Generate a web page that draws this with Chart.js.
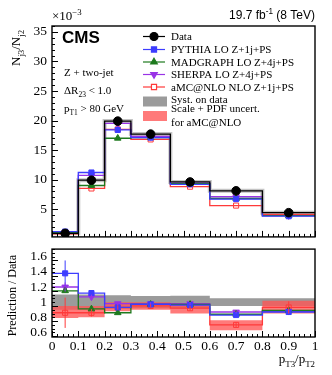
<!DOCTYPE html>
<html>
<head>
<meta charset="utf-8">
<script src="https://cdn.jsdelivr.net/npm/chart.js@4.4.0/dist/chart.umd.min.js"></script>
<style>
    html, body { margin: 0; padding: 0; background: #fff; }
    #wrap { position: relative; width: 332px; height: 375px; overflow: hidden; }
    #topChart { position: absolute; left: 0; top: 0; }
    #ratioChart { position: absolute; left: 0; top: 236px; }
</style>
</head>
<body>
<div id="wrap">
    <canvas id="topChart" width="332" height="250"></canvas>
    <canvas id="ratioChart" width="332" height="139"></canvas>
</div>
<script>
// --- DATA ---
const binEdges = [0, 0.1, 0.2, 0.3, 0.45, 0.6, 0.8, 1.0];
const binCenters = [0.05, 0.15, 0.25, 0.375, 0.525, 0.7, 0.9];

// upper panel, N_j3/N_j2 in units of 1e-3
const dataTop = [0.9, 9.9, 19.9, 17.7, 9.6, 8.1, 4.4];
const pythiaTop = [1.2, 11.2, 18.4, 17.1, 9.2, 6.7, 3.8];
const madgraphTop = [1.0, 9.0, 17.0, 17.1, 9.3, 6.8, 3.9];
const sherpaTop = [1.1, 10.7, 19.5, 17.3, 9.4, 7.1, 3.9];
const amcnloTop = [0.8, 8.5, 18.5, 16.8, 8.8, 5.6, 4.1];

// lower panel, prediction / data
const pythiaRatio = [1.38, 1.12, 0.93, 0.97, 0.96, 0.83, 0.87];
const madgraphRatio = [1.15, 0.91, 0.86, 0.97, 0.97, 0.84, 0.89];
const sherpaRatio = [1.20, 1.07, 0.98, 0.98, 0.98, 0.87, 0.88];
const amcnloRatio = [0.86, 0.86, 0.93, 0.95, 0.92, 0.70, 0.93];
const pythiaErr = [0.17, 0.03, 0.02, 0.02, 0.02, 0.02, 0.03];
const sherpaErr = [0.06, 0.03, 0.02, 0.02, 0.02, 0.02, 0.03];
const amcnloErr = [0.20, 0.05, 0.03, 0.02, 0.03, 0.03, 0.08];
const systLow = [0.90, 0.90, 0.91, 0.92, 0.92, 0.95, 0.95];
const systHigh = [1.10, 1.10, 1.09, 1.08, 1.085, 1.05, 1.05];
const amcBandLow = [0.79, 0.80, 0.88, 0.90, 0.85, 0.63, 0.85];
const amcBandHigh = [0.95, 0.95, 1.00, 1.00, 0.99, 0.76, 1.02];

// ticks
const xTicks = [0, 0.1, 0.2, 0.3, 0.4, 0.5, 0.6, 0.7, 0.8, 0.9, 1];
const xTickLabels = ['0', '0.1', '0.2', '0.3', '0.4', '0.5', '0.6', '0.7', '0.8', '0.9', '1'];
const topTicks = [5, 10, 15, 20, 25, 30, 35];
const ratioTicks = [0.6, 0.8, 1, 1.2, 1.4, 1.6];
const ratioTickLabels = ['0.6', '0.8', '1', '1.2', '1.4', '1.6'];

// --- STYLE ---
const SERIF = '"Liberation Serif", "DejaVu Serif", serif';
const SANS = '"Liberation Sans", Arial, sans-serif';
const C_DATA = '#000000';
const C_PYTHIA = '#3d3dff';
const C_MADGRAPH = '#1e7a1e';
const C_SHERPA = '#9933e6';
const C_AMC = '#ff3a3a';
const C_SYST = '#9b9b9b';
const C_AMCBAND = 'rgba(255, 85, 85, 0.78)';

// histogram outline from bin values
function steps(values) {
    const pts = [];
    values.forEach((v, i) => {
        pts.push({ x: binEdges[i], y: v });
        pts.push({ x: binEdges[i + 1], y: v });
    });
    return pts;
}
function markers(values) {
    return values.map((v, i) => ({ x: binCenters[i], y: v }));
}
function histLine(values, color, width, order) {
    return { type: 'line', data: steps(values), borderColor: color, borderWidth: width, pointRadius: 0, fill: false, order: order };
}
function markerSet(values, color, style, radius, opts = {}) {
    return Object.assign({
        type: 'line', data: markers(values), showLine: false, pointStyle: style, pointRadius: radius,
        pointBackgroundColor: color, pointBorderColor: color, pointBorderWidth: 1, order: 0
    }, opts);
}

// --- TEXT HELPERS ---
function drawRich(ctx, parts, x, y, size, family, align) {
    let w = 0;
    parts.forEach(p => {
        ctx.font = (p.s ? size * 0.68 : size) + 'px ' + family;
        w += ctx.measureText(p.t).width;
    });
    let cx = align === 'right' ? x - w : align === 'center' ? x - w / 2 : x;
    ctx.textAlign = 'left';
    ctx.textBaseline = 'alphabetic';
    parts.forEach(p => {
        const fs = p.s ? size * 0.68 : size;
        ctx.font = fs + 'px ' + family;
        const dy = p.s === 'sub' ? size * 0.28 : p.s === 'sup' ? -size * 0.42 : 0;
        ctx.fillText(p.t, cx, y + dy);
        cx += ctx.measureText(p.t).width;
    });
}

// --- FRAME & INWARD TICKS ---
const framePlugin = {
    id: 'frame',
    afterDatasetsDraw(chart, args, opts) {
        const { ctx, chartArea: a, scales } = chart;
        const xs = scales.x, ys = scales.y;
        ctx.save();
        ctx.strokeStyle = '#000';
        ctx.lineWidth = 1;
        // x ticks on bottom edge
        for (let v = 0; v <= 1.0001; v += 0.02) {
            const px = Math.round(xs.getPixelForValue(v)) + 0.5;
            const major = Math.abs(v * 10 - Math.round(v * 10)) < 1e-6;
            ctx.beginPath();
            ctx.moveTo(px, a.bottom);
            ctx.lineTo(px, a.bottom - (major ? 6 : 3));
            ctx.stroke();
        }
        // y ticks on left edge
        for (let v = opts.yStart; v <= ys.max + 1e-6; v += opts.yMinor) {
            if (v < ys.min) continue;
            const py = Math.round(ys.getPixelForValue(v)) + 0.5;
            const k = (v - opts.yStart) / opts.yMajor;
            const major = Math.abs(k - Math.round(k)) < 1e-6;
            ctx.beginPath();
            ctx.moveTo(a.left, py);
            ctx.lineTo(a.left + (major ? 6 : 3), py);
            ctx.stroke();
        }
        ctx.lineWidth = 1.4;
        ctx.strokeRect(a.left, a.top, a.right - a.left, a.bottom - a.top);
        ctx.restore();
    }
};

// --- ERROR BARS (ratio panel) ---
const errorBarPlugin = {
    id: 'errbars',
    afterDatasetsDraw(chart, args, opts) {
        const { ctx, scales } = chart;
        ctx.save();
        ctx.lineWidth = 1;
        opts.sets.forEach(s => {
            ctx.strokeStyle = s.color;
            s.values.forEach((v, i) => {
                const px = scales.x.getPixelForValue(binCenters[i]);
                ctx.beginPath();
                ctx.moveTo(px, scales.y.getPixelForValue(v - s.err[i]));
                ctx.lineTo(px, scales.y.getPixelForValue(v + s.err[i]));
                ctx.stroke();
            });
        });
        ctx.restore();
    }
};

// --- TOP PANEL TEXT & LEGEND ---
const topTextPlugin = {
    id: 'topText',
    afterDraw(chart) {
        const ctx = chart.ctx;
        ctx.save();
        ctx.fillStyle = '#000';
        // exponent
        drawRich(ctx, [{ t: '\u00d710' }, { t: '\u22123', s: 'sup' }], 52, 20, 13, SERIF, 'left');
        // lumi
        drawRich(ctx, [{ t: '19.7 fb' }, { t: '-1', s: 'sup' }, { t: ' (8 TeV)' }], 315, 19, 12, SANS, 'right');
        // CMS
        ctx.font = 'bold 17px ' + SANS;
        ctx.textAlign = 'left';
        ctx.fillText('CMS', 62, 43);
        // selection
        drawRich(ctx, [{ t: 'Z + two-jet' }], 64, 76, 11, SERIF, 'left');
        drawRich(ctx, [{ t: '\u0394R' }, { t: '23', s: 'sub' }, { t: ' < 1.0' }], 64, 94, 11, SERIF, 'left');
        drawRich(ctx, [{ t: 'p' }, { t: 'T1', s: 'sub' }, { t: ' > 80 GeV' }], 64, 112, 11, SERIF, 'left');
        // y title
        ctx.save();
        ctx.translate(20, 66);
        ctx.rotate(-Math.PI / 2);
        drawRich(ctx, [{ t: 'N' }, { t: 'j3', s: 'sub' }, { t: '/N' }, { t: 'j2', s: 'sub' }], 0, 0, 13, SERIF, 'left');
        ctx.restore();

        // legend
        const H = Chart.helpers;
        const lx0 = 143, lx1 = 165, mx = 154, tx = 171;
        const rows = [
            { y: 36.5, label: 'Data', color: C_DATA, style: 'circle', r: 4, fill: C_DATA },
            { y: 49.5, label: 'PYTHIA LO Z+1j+PS', color: C_PYTHIA, style: 'rect', r: 3.6, fill: C_PYTHIA },
            { y: 62, label: 'MADGRAPH LO Z+4j+PS', color: C_MADGRAPH, style: 'triangle', r: 3.8, fill: C_MADGRAPH },
            { y: 74.5, label: 'SHERPA LO Z+4j+PS', color: C_SHERPA, style: 'triangle', r: 3.8, fill: C_SHERPA, rot: 180 },
            { y: 87, label: 'aMC@NLO NLO Z+1j+PS', color: C_AMC, style: 'rect', r: 3.6, fill: '#fff' }
        ];
        rows.forEach(r => {
            ctx.strokeStyle = r.color;
            ctx.lineWidth = 1.2;
            ctx.beginPath();
            ctx.moveTo(lx0, r.y);
            ctx.lineTo(lx1, r.y);
            ctx.stroke();
            ctx.fillStyle = r.fill;
            H.drawPoint(ctx, { pointStyle: r.style, radius: r.r, rotation: r.rot || 0, borderWidth: 1 }, mx, r.y);
            ctx.fillStyle = '#000';
            drawRich(ctx, [{ t: r.label }], tx, r.y + 3.8, 11, SERIF, 'left');
        });
        ctx.fillStyle = C_SYST;
        ctx.fillRect(lx0, 96.5, lx1 - lx0 + 2, 10);
        ctx.fillStyle = C_AMCBAND;
        ctx.fillRect(lx0, 111, lx1 - lx0 + 2, 10);
        ctx.fillStyle = '#000';
        drawRich(ctx, [{ t: 'Syst. on data' }], tx, 102.5, 11, SERIF, 'left');
        drawRich(ctx, [{ t: 'Scale + PDF uncert.' }], tx, 111.5, 11, SERIF, 'left');
        drawRich(ctx, [{ t: 'for aMC@NLO' }], tx, 126, 11, SERIF, 'left');
        ctx.restore();
    }
};

// --- RATIO PANEL TEXT ---
const ratioTextPlugin = {
    id: 'ratioText',
    afterDraw(chart) {
        const ctx = chart.ctx;
        ctx.save();
        ctx.fillStyle = '#000';
        ctx.save();
        ctx.translate(16, 19);
        ctx.rotate(-Math.PI / 2);
        drawRich(ctx, [{ t: 'Prediction / Data' }], 0, 0, 12, SERIF, 'right');
        ctx.restore();
        drawRich(ctx, [{ t: 'p' }, { t: 'T3', s: 'sub' }, { t: '/p' }, { t: 'T2', s: 'sub' }], 315, 127, 13, SERIF, 'right');
        ctx.restore();
    }
};

const noGrid = { display: false, drawTicks: false, tickLength: 0 };

// --- TOP CHART ---
new Chart(document.getElementById('topChart'), {
    type: 'line',
    data: {
        datasets: [
            markerSet(dataTop, C_DATA, 'circle', 4.3),
            markerSet(pythiaTop, C_PYTHIA, 'rect', 3.6),
            markerSet(madgraphTop, C_MADGRAPH, 'triangle', 3.8),
            markerSet(sherpaTop, C_SHERPA, 'triangle', 3.8, { rotation: 180 }),
            markerSet(amcnloTop, C_AMC, 'rect', 3.6, { pointBackgroundColor: 'rgba(255,255,255,0)' }),
            histLine(dataTop, C_DATA, 1.3, 1),
            histLine(pythiaTop, C_PYTHIA, 1.3, 2),
            histLine(madgraphTop, C_MADGRAPH, 1.3, 2),
            histLine(sherpaTop, C_SHERPA, 1.3, 2),
            histLine(amcnloTop, C_AMC, 1.3, 2),
            histLine(dataTop, '#c4c4c4', 4, 3)
        ]
    },
    options: {
        responsive: false,
        animation: false,
        layout: { padding: { left: 0, right: 17, top: 26, bottom: 9.5 } },
        plugins: {
            legend: { display: false },
            tooltip: { enabled: false },
            frame: { yStart: 0, yMinor: 1, yMajor: 5 }
        },
        scales: {
            x: { type: 'linear', min: 0, max: 1, display: false },
            y: {
                type: 'linear', min: 0.3, max: 36,
                grid: noGrid,
                border: { display: false },
                afterBuildTicks: s => { s.ticks = topTicks.map(v => ({ value: v })); },
                afterFit: s => { s.width = 52; },
                ticks: { font: { family: SERIF, size: 13.5 }, color: '#000', padding: 5, autoSkip: false, callback: v => String(v) }
            }
        }
    },
    plugins: [framePlugin, topTextPlugin]
});

// --- RATIO CHART ---
new Chart(document.getElementById('ratioChart'), {
    type: 'line',
    data: {
        datasets: [
            markerSet(pythiaRatio, C_PYTHIA, 'rect', 3.6),
            markerSet(madgraphRatio, C_MADGRAPH, 'triangle', 3.8),
            markerSet(sherpaRatio, C_SHERPA, 'triangle', 3.8, { rotation: 180 }),
            markerSet(amcnloRatio, C_AMC, 'rect', 3.6, { pointBackgroundColor: 'rgba(255,255,255,0)' }),
            histLine(pythiaRatio, C_PYTHIA, 1.3, 1),
            histLine(madgraphRatio, C_MADGRAPH, 1.3, 1),
            histLine(sherpaRatio, C_SHERPA, 1.3, 1),
            histLine(amcnloRatio, C_AMC, 1.3, 1),
            // bands: lower edge then upper edge filled to previous
            { type: 'line', data: steps(amcBandLow), borderWidth: 0, pointRadius: 0, fill: false, order: 3 },
            { type: 'line', data: steps(amcBandHigh), borderWidth: 0, pointRadius: 0, fill: '-1', backgroundColor: C_AMCBAND, order: 3 },
            { type: 'line', data: steps(systLow), borderWidth: 0, pointRadius: 0, fill: false, order: 4 },
            { type: 'line', data: steps(systHigh), borderWidth: 0, pointRadius: 0, fill: '-1', backgroundColor: C_SYST, order: 4 }
        ]
    },
    options: {
        responsive: false,
        animation: false,
        layout: { padding: { left: 0, right: 17, top: 10, bottom: 0 } },
        plugins: {
            legend: { display: false },
            tooltip: { enabled: false },
            filler: { drawTime: 'beforeDatasetsDraw' },
            frame: { yStart: 0.55, yMinor: 0.05, yMajor: 0.2 },
            errbars: {
                sets: [
                    { values: pythiaRatio, err: pythiaErr, color: C_PYTHIA },
                    { values: sherpaRatio, err: sherpaErr, color: C_SHERPA },
                    { values: amcnloRatio, err: amcnloErr, color: C_AMC }
                ]
            }
        },
        scales: {
            x: {
                type: 'linear', min: 0, max: 1,
                grid: noGrid,
                border: { display: false },
                afterBuildTicks: s => { s.ticks = xTicks.map(v => ({ value: v })); },
                afterFit: s => { s.height = 38; },
                ticks: {
                    font: { family: SERIF, size: 13.5 }, color: '#000', padding: 1, maxRotation: 0, autoSkip: false,
                    callback: (v, i) => xTickLabels[i]
                }
            },
            y: {
                type: 'linear', min: 0.54, max: 1.7,
                grid: noGrid,
                border: { display: false },
                afterBuildTicks: s => { s.ticks = ratioTicks.map(v => ({ value: v })); },
                afterFit: s => { s.width = 52; },
                ticks: {
                    font: { family: SERIF, size: 13.5 }, color: '#000', padding: 5, autoSkip: false,
                    callback: (v, i) => ratioTickLabels[i]
                }
            }
        }
    },
    plugins: [framePlugin, errorBarPlugin, ratioTextPlugin]
});
</script>
</body>
</html>
